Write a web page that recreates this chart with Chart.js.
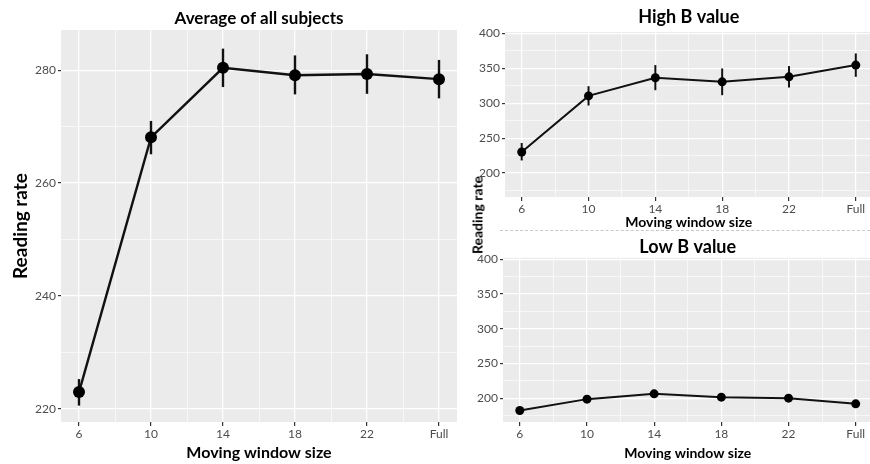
<!DOCTYPE html>
<html>
<head>
<meta charset="utf-8">
<title>Reading rate by moving window size</title>
<script src="https://cdn.jsdelivr.net/npm/chart.js@4.4.1/dist/chart.umd.min.js"></script>
<style>
    html, body { margin: 0; padding: 0; background: #fff; overflow: hidden; }
    body { width: 870px; height: 464px; position: relative; font-family: Lato, sans-serif; }
    .panel { position: absolute; }
    #avgBox { left: 0; top: 0; width: 463px; height: 464px; }
    #highBox { left: 470px; top: 0; width: 407px; height: 232px; }
    #lowBox { left: 470px; top: 232px; width: 407px; height: 232px; }
    .divider { position: absolute; left: 500px; top: 230px; width: 370px; border-top: 1px dashed #c8c8c8; }
    .sideLabel {
        position: absolute; left: 477px; top: 215px;
        transform: translate(-50%, -50%) rotate(-90deg);
        font: bold 14px Lato, sans-serif; white-space: nowrap; color: #000;
    }
</style>
</head>
<body>
<div class="panel" id="avgBox"><canvas id="avgChart"></canvas></div>
<div class="panel" id="highBox"><canvas id="highChart"></canvas></div>
<div class="panel" id="lowBox"><canvas id="lowChart"></canvas></div>
<div class="divider"></div>
<div class="sideLabel">Reading rate</div>
<script>
// Moving window sizes (x categories)
const windowSizes = ['6', '10', '14', '18', '22', 'Full'];

// Average of all subjects: mean and error bar ends
const avgMean  = [223.0, 268.1, 280.4, 279.1, 279.3, 278.4];
const avgLower = [220.6, 265.1, 277.0, 275.7, 275.8, 275.0];
const avgUpper = [225.3, 271.0, 283.8, 282.6, 282.8, 281.8];

// High B value group
const highMean  = [230.1, 310.5, 336.4, 330.6, 337.8, 354.6];
const highLower = [218.0, 296.7, 318.7, 311.5, 322.5, 337.8];
const highUpper = [243.0, 324.4, 354.6, 349.8, 353.2, 371.3];

// Low B value group
const lowMean  = [182.2, 198.6, 206.2, 201.4, 200.0, 191.8];
const lowLower = [178.5, 194.0, 200.5, 196.5, 195.0, 187.5];
const lowUpper = [186.0, 203.5, 212.0, 206.5, 205.0, 196.0];

// y tick labels
const avgTicks  = [220, 240, 260, 280];
const rateTicks = [200, 250, 300, 350, 400];

Chart.defaults.font.family = 'Lato, sans-serif';

// grey panel behind the plot area
const panelBackground = {
    id: 'panelBackground',
    beforeDraw(chart) {
        const { ctx, chartArea: a } = chart;
        ctx.save();
        ctx.fillStyle = '#EBEBEB';
        ctx.fillRect(a.left, a.top, a.right - a.left, a.bottom - a.top);
        ctx.restore();
    }
};

// vertical error bars read from dataset.errLow / dataset.errHigh
const errorBars = {
    id: 'errorBars',
    beforeDatasetsDraw(chart) {
        const { ctx, scales: { x, y } } = chart;
        const ds = chart.data.datasets[0];
        ctx.save();
        ctx.strokeStyle = '#111';
        ctx.lineWidth = ds.errWidth;
        ds.errLow.forEach((lo, i) => {
            const px = x.getPixelForValue(i);
            ctx.beginPath();
            ctx.moveTo(px, y.getPixelForValue(lo));
            ctx.lineTo(px, y.getPixelForValue(ds.errHigh[i]));
            ctx.stroke();
        });
        ctx.restore();
    }
};

// major ticks plus the minor ones halfway between them
function withMinor(majors, min, max) {
    const step = majors[1] - majors[0];
    const out = [];
    for (let v = majors[0] - step / 2; v <= majors[majors.length - 1] + step / 2; v += step / 2) {
        if (v >= min && v <= max) out.push(v);
    }
    return out;
}

function buildPanel(canvasId, opt) {
    const xMin = -0.25, xMax = windowSizes.length - 0.75;
    const xValues = withMinor(windowSizes.map((_, i) => i), xMin, xMax);
    const yValues = withMinor(opt.yTicks, opt.yMin, opt.yMax);
    const isMajorX = v => Number.isInteger(v);
    const isMajorY = v => opt.yTicks.includes(v);

    return new Chart(document.getElementById(canvasId), {
        type: 'line',
        data: {
            datasets: [{
                data: opt.mean.map((v, i) => ({ x: i, y: v })),
                errLow: opt.lower,
                errHigh: opt.upper,
                errWidth: opt.errWidth,
                borderColor: '#111',
                backgroundColor: '#000',
                borderWidth: opt.lineWidth,
                pointRadius: opt.pointRadius,
                pointBorderWidth: 0,
                tension: 0
            }]
        },
        options: {
            responsive: true,
            maintainAspectRatio: false,
            animation: false,
            layout: { padding: 0 },
            plugins: {
                legend: { display: false },
                tooltip: { enabled: false },
                title: {
                    display: true,
                    fullSize: false,
                    text: opt.title,
                    color: '#000',
                    font: { size: opt.titleSize, weight: 'bold' },
                    padding: opt.titlePadding
                }
            },
            scales: {
                x: {
                    type: 'linear',
                    min: xMin,
                    max: xMax,
                    afterBuildTicks: s => { s.ticks = xValues.map(v => ({ value: v })); },
                    afterFit: s => { s.height = opt.xHeight; },
                    border: { display: false },
                    grid: {
                        color: '#fff',
                        lineWidth: c => isMajorX(c.tick.value) ? 1.2 : 0.6,
                        tickColor: c => isMajorX(c.tick.value) ? '#333' : 'rgba(0,0,0,0)',
                        tickLength: 4
                    },
                    ticks: {
                        autoSkip: false,
                        maxRotation: 0,
                        padding: 1,
                        color: '#4D4D4D',
                        font: { size: 12 },
                        callback: v => isMajorX(v) ? windowSizes[v] : ''
                    },
                    title: {
                        display: true,
                        text: 'Moving window size',
                        color: '#000',
                        font: { size: opt.xTitleSize, weight: 'bold' },
                        padding: { top: 0, bottom: opt.xTitleBottom }
                    }
                },
                y: {
                    min: opt.yMin,
                    max: opt.yMax,
                    afterBuildTicks: s => { s.ticks = yValues.map(v => ({ value: v })); },
                    afterFit: s => { s.width = opt.yWidth; },
                    border: { display: false },
                    grid: {
                        color: '#fff',
                        lineWidth: c => isMajorY(c.tick.value) ? 1.2 : 0.6,
                        tickColor: c => isMajorY(c.tick.value) ? '#333' : 'rgba(0,0,0,0)',
                        tickLength: 3
                    },
                    ticks: {
                        autoSkip: false,
                        padding: 2,
                        color: '#4D4D4D',
                        font: { size: 12 },
                        callback: v => isMajorY(v) ? String(v) : ''
                    },
                    title: {
                        display: opt.yTitle,
                        text: 'Reading rate',
                        color: '#000',
                        font: { size: 19, weight: 'bold' },
                        padding: { top: 9, bottom: 0 }
                    }
                }
            }
        },
        plugins: [panelBackground, errorBars]
    });
}

buildPanel('avgChart', {
    title: 'Average of all subjects', titleSize: 17, titlePadding: { top: 8, bottom: 1.6 },
    mean: avgMean, lower: avgLower, upper: avgUpper,
    yTicks: avgTicks, yMin: 217.7, yMax: 287.1, yTitle: true, yWidth: 61,
    xHeight: 42, xTitleSize: 16, xTitleBottom: 2,
    lineWidth: 2.4, pointRadius: 6, errWidth: 2.4
});

buildPanel('highChart', {
    title: 'High B value', titleSize: 18, titlePadding: { top: 6.2, bottom: 4.2 },
    mean: highMean, lower: highLower, upper: highUpper,
    yTicks: rateTicks, yMin: 165.7, yMax: 402, yTitle: false, yWidth: 35,
    xHeight: 35, xTitleSize: 14, xTitleBottom: 1,
    lineWidth: 2, pointRadius: 4.5, errWidth: 2
});

buildPanel('lowChart', {
    title: 'Low B value', titleSize: 18, titlePadding: { top: 4.2, bottom: 0 },
    mean: lowMean, lower: lowLower, upper: lowUpper,
    yTicks: rateTicks, yMin: 165.7, yMax: 402, yTitle: false, yWidth: 33,
    xHeight: 42, xTitleSize: 14, xTitleBottom: 2,
    lineWidth: 2, pointRadius: 4.5, errWidth: 2
});
</script>
</body>
</html>
